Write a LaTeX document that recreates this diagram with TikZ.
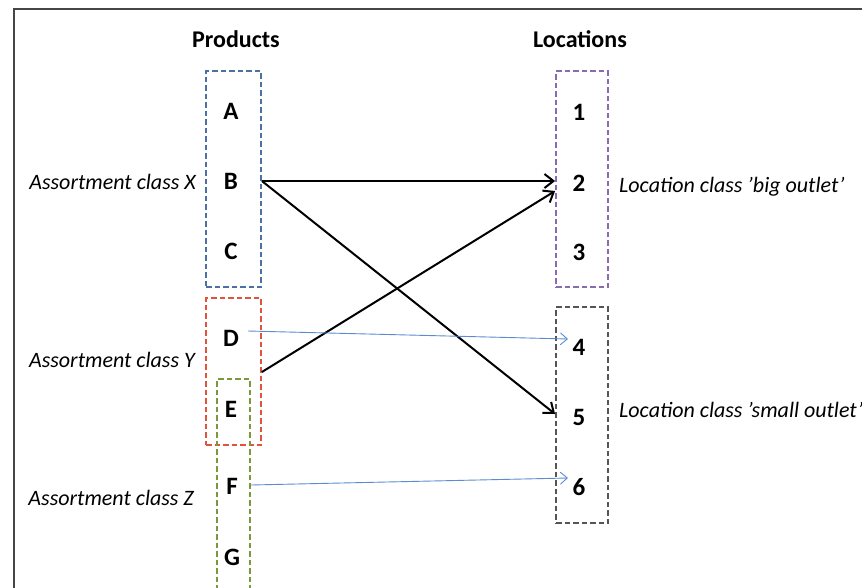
\documentclass[tikz,border=0pt]{standalone}
\usepackage{fontspec}
\setmainfont{Carlito}
\usetikzlibrary{arrows.meta}
\definecolor{cblue}{HTML}{4A70A6}
\definecolor{cred}{HTML}{E0533D}
\definecolor{cgreen}{HTML}{7A9A3A}
\definecolor{cpurple}{HTML}{8A6AB0}
\definecolor{cgray}{HTML}{555555}
\definecolor{carrow}{HTML}{5B8BD0}
\definecolor{cframe}{HTML}{464646}
\tikzset{
  grp/.style={draw=#1, dash pattern=on 5.5pt off 3pt, line width=1.8pt, inner sep=0pt, fill=none},
  item/.style={font=\fontsize{25}{28}\selectfont\bfseries, inner sep=0pt, anchor=base},
  ttl/.style={font=\fontsize{24}{27}\selectfont\bfseries, inner sep=0pt, anchor=base},
  lbl/.style={font=\fontsize{22}{26}\selectfont\itshape, inner sep=0pt},
  bigarr/.style={-{Straight Barb[length=9pt,width=14pt,line width=2pt]}, line width=2pt, black},
  smallarr/.style={-{Straight Barb[length=7pt,width=12pt]}, line width=0.9pt, carrow},
}
\begin{document}
\begin{tikzpicture}[x=1pt,y=-1pt]
\useasboundingbox (0,0) rectangle (862,587);
% frame
\draw[cframe, line width=2pt] (14,588) -- (14,9) -- (863,9);
% titles
\node[ttl] (tp) at (236,47) {Products};
\node[ttl] (tl) at (580,47) {Locations};
% group boxes
\node[grp=cblue, minimum width=55pt, minimum height=216pt] (gx) at (233.5,179) {};
\node[grp=cred, minimum width=55pt, minimum height=147pt] (gy) at (233.5,371.5) {};
\node[grp=cgreen, minimum width=33pt, minimum height=221pt] (gz) at (233.5,489.5) {};
\node[grp=cpurple, minimum width=52pt, minimum height=216pt] (gb) at (582,179) {};
\node[grp=cgray, minimum width=52pt, minimum height=216pt] (gs) at (582,415) {};
% products
\node[item] (A) at (231,119) {A};
\node[item] (B) at (231,189) {B};
\node[item] (C) at (231,259) {C};
\node[item] (D) at (231,346) {D};
\node[item] (E) at (231,417) {E};
\node[item] (F) at (232,494) {F};
\node[item] (G) at (232,565) {G};
% locations
\node[item] (L1) at (579,120) {1};
\node[item] (L2) at (579,191) {2};
\node[item] (L3) at (579,260) {3};
\node[item] (L4) at (579,355) {4};
\node[item] (L5) at (579,425) {5};
\node[item] (L6) at (579,495) {6};
% labels
\node[lbl, anchor=base east] (lx) at (196,189) {Assortment class X};
\node[lbl, anchor=base east] (ly) at (195,367) {Assortment class Y};
\node[lbl, anchor=base east] (lz) at (194,505) {Assortment class Z};
\node[lbl, anchor=base west] (lb) at (619,192) {Location class ’big outlet’};
\node[lbl, anchor=base west] (ls) at (619,417) {Location class ’small outlet’};
% connector end points
\coordinate (bS) at (gx.east |- 0,181);
\coordinate (b2) at (gb.west |- 0,181);
\coordinate (b5) at (gb.west |- 0,414);
\coordinate (yS) at (gy.east |- 0,372);
\coordinate (y2) at (gb.west |- 0,191);
\coordinate (dS) at (248,331);
\coordinate (d4) at (568,339);
\coordinate (fS) at (gz.east |- 0,485);
\coordinate (f6) at (568,478);
% connectors
\draw[bigarr] (bS) -- (b2);
\draw[bigarr] (bS) -- (b5);
\draw[bigarr] (yS) -- (y2);
\draw[smallarr] (dS) -- (d4);
\draw[smallarr] (fS) -- (f6);
\end{tikzpicture}
\end{document}
